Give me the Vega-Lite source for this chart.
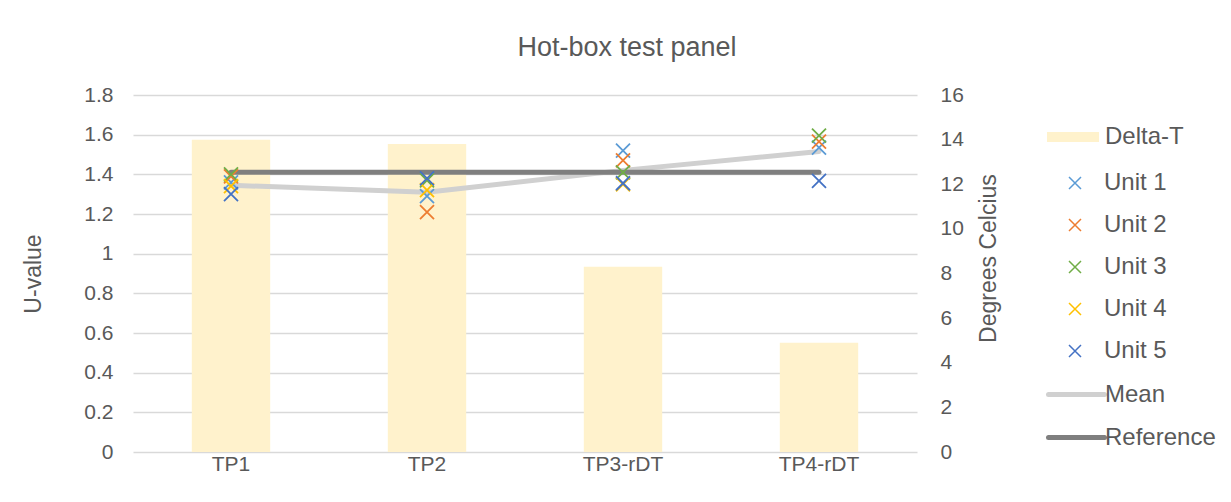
{
  "$schema": "https://vega.github.io/schema/vega-lite/v6.json",
  "width": 784,
  "height": 357,
  "autosize": {"type": "none"},
  "padding": {"left": 133, "top": 95, "right": 314, "bottom": 50},
  "background": "white",
  "title": {
    "text": "Hot-box test panel",
    "font": "Liberation Sans",
    "fontSize": 27,
    "fontWeight": "normal",
    "color": "#595959",
    "anchor": "middle",
    "frame": "bounds",
    "baseline": "alphabetic",
    "offset": 1,
    "dx": 8
  },
  "datasets": {
    "delta": [
      {"panel": "TP1", "series": "Delta-T", "deltaT": 14.0},
      {"panel": "TP2", "series": "Delta-T", "deltaT": 13.8},
      {"panel": "TP3-rDT", "series": "Delta-T", "deltaT": 8.3},
      {"panel": "TP4-rDT", "series": "Delta-T", "deltaT": 4.9}
    ],
    "lines": [
      {"panel": "TP1", "series": "Mean", "u": 1.345},
      {"panel": "TP2", "series": "Mean", "u": 1.31},
      {"panel": "TP3-rDT", "series": "Mean", "u": 1.42},
      {"panel": "TP4-rDT", "series": "Mean", "u": 1.515},
      {"panel": "TP1", "series": "Reference", "u": 1.41},
      {"panel": "TP2", "series": "Reference", "u": 1.41},
      {"panel": "TP3-rDT", "series": "Reference", "u": 1.41},
      {"panel": "TP4-rDT", "series": "Reference", "u": 1.41}
    ],
    "units": [
      {"panel": "TP1", "unit": "Unit 1", "u": 1.36},
      {"panel": "TP1", "unit": "Unit 2", "u": 1.39},
      {"panel": "TP1", "unit": "Unit 3", "u": 1.40},
      {"panel": "TP1", "unit": "Unit 4", "u": 1.34},
      {"panel": "TP1", "unit": "Unit 5", "u": 1.30},
      {"panel": "TP2", "unit": "Unit 1", "u": 1.29},
      {"panel": "TP2", "unit": "Unit 2", "u": 1.21},
      {"panel": "TP2", "unit": "Unit 3", "u": 1.37},
      {"panel": "TP2", "unit": "Unit 4", "u": 1.32},
      {"panel": "TP2", "unit": "Unit 5", "u": 1.38},
      {"panel": "TP3-rDT", "unit": "Unit 1", "u": 1.52},
      {"panel": "TP3-rDT", "unit": "Unit 2", "u": 1.47},
      {"panel": "TP3-rDT", "unit": "Unit 3", "u": 1.41},
      {"panel": "TP3-rDT", "unit": "Unit 4", "u": 1.35},
      {"panel": "TP3-rDT", "unit": "Unit 5", "u": 1.355},
      {"panel": "TP4-rDT", "unit": "Unit 1", "u": 1.535},
      {"panel": "TP4-rDT", "unit": "Unit 2", "u": 1.565},
      {"panel": "TP4-rDT", "unit": "Unit 3", "u": 1.595},
      {"panel": "TP4-rDT", "unit": "Unit 5", "u": 1.367}
    ]
  },
  "encoding": {
    "x": {
      "field": "panel",
      "type": "nominal",
      "sort": null,
      "scale": {"paddingInner": 0.6, "paddingOuter": 0.3},
      "axis": {"title": null, "labelAngle": 0, "labelPadding": 1, "grid": false}
    }
  },
  "layer": [
    {
      "data": {"name": "delta"},
      "mark": {"type": "bar"},
      "encoding": {
        "y": {
          "field": "deltaT",
          "type": "quantitative",
          "scale": {"domain": [0, 16], "nice": false},
          "axis": {
            "orient": "right",
            "title": "Degrees Celcius",
            "values": [0, 2, 4, 6, 8, 10, 12, 14, 16],
            "grid": false,
            "labelOverlap": false,
            "labelBound": false,
            "labelPadding": 23,
            "titleAngle": 270,
            "titleBaseline": "middle",
            "titleX": 71,
            "titleY": 163
          }
        },
        "fill": {
          "field": "series",
          "type": "nominal",
          "scale": {"domain": ["Delta-T"], "range": ["#FFF2CC"]},
          "legend": {
            "orient": "none",
            "legendX": 914,
            "legendY": 16,
            "title": null,
            "symbolType": "M-1,-0.19H1V0.19H-1Z",
            "symbolSize": 2704,
            "symbolStrokeWidth": 0,
            "labelOffset": 6
          }
        }
      }
    },
    {
      "encoding": {
        "y": {
          "field": "u",
          "type": "quantitative",
          "scale": {"domain": [0, 1.8], "nice": false, "zero": true},
          "axis": {
            "orient": "left",
            "title": "U-value",
            "values": [0, 0.2, 0.4, 0.6, 0.8, 1, 1.2, 1.4, 1.6, 1.8],
            "tickCount": 10,
            "format": "~g",
            "grid": true,
            "labelOverlap": false,
            "labelBound": false,
            "labelPadding": 20,
            "titleBaseline": "middle",
            "titleX": -100,
            "titleY": 178.5
          }
        }
      },
      "layer": [
        {
          "data": {"name": "lines"},
          "mark": {"type": "line", "strokeWidth": 5, "strokeCap": "round", "strokeJoin": "round"},
          "encoding": {
            "stroke": {
              "field": "series",
              "type": "nominal",
              "scale": {"domain": ["Mean", "Reference"], "range": ["#D0D0D0", "#7F7F7F"]},
              "legend": {
                "orient": "none",
                "legendX": 913,
                "legendY": 269,
                "title": null,
                "symbolType": "stroke",
                "symbolSize": 3136,
                "symbolStrokeWidth": 5,
                "labelOffset": -2,
                "rowPadding": 0,
                "encode": {"symbols": {"update": {"strokeCap": {"value": "round"}}}}
              }
            }
          }
        },
        {
          "data": {"name": "units"},
          "mark": {"type": "point", "shape": "M-1,-1L1,1M-1,1L1,-1", "filled": false, "strokeWidth": 1.8, "size": 196, "opacity": 1},
          "encoding": {
            "color": {
              "field": "unit",
              "type": "nominal",
              "scale": {
                "domain": ["Unit 1", "Unit 2", "Unit 3", "Unit 4", "Unit 5"],
                "range": ["#5B9BD5", "#ED7D31", "#70AD47", "#FFC000", "#4472C4"]
              },
              "legend": {
                "orient": "none",
                "legendX": 930,
                "legendY": 76,
                "title": null,
                "symbolType": "M-1,-1L1,1M-1,1L1,-1",
                "symbolSize": 144,
                "symbolStrokeWidth": 1.5,
                "labelOffset": 17,
                "rowPadding": 18
              }
            }
          }
        }
      ]
    }
  ],
  "resolve": {"scale": {"y": "independent"}},
  "config": {
    "view": {"stroke": null},
    "font": "Liberation Sans",
    "axis": {
      "domain": false,
      "ticks": false,
      "labelFont": "Liberation Sans",
      "labelFontSize": 21,
      "labelColor": "#595959",
      "titleFont": "Liberation Sans",
      "titleFontSize": 23,
      "titleFontWeight": "normal",
      "titleColor": "#595959",
      "gridColor": "#D9D9D9",
      "gridWidth": 1.3
    },
    "legend": {
      "labelFont": "Liberation Sans",
      "labelFontSize": 24,
      "labelColor": "#595959",
      "padding": 0,
      "symbolOpacity": 1
    }
  }
}
